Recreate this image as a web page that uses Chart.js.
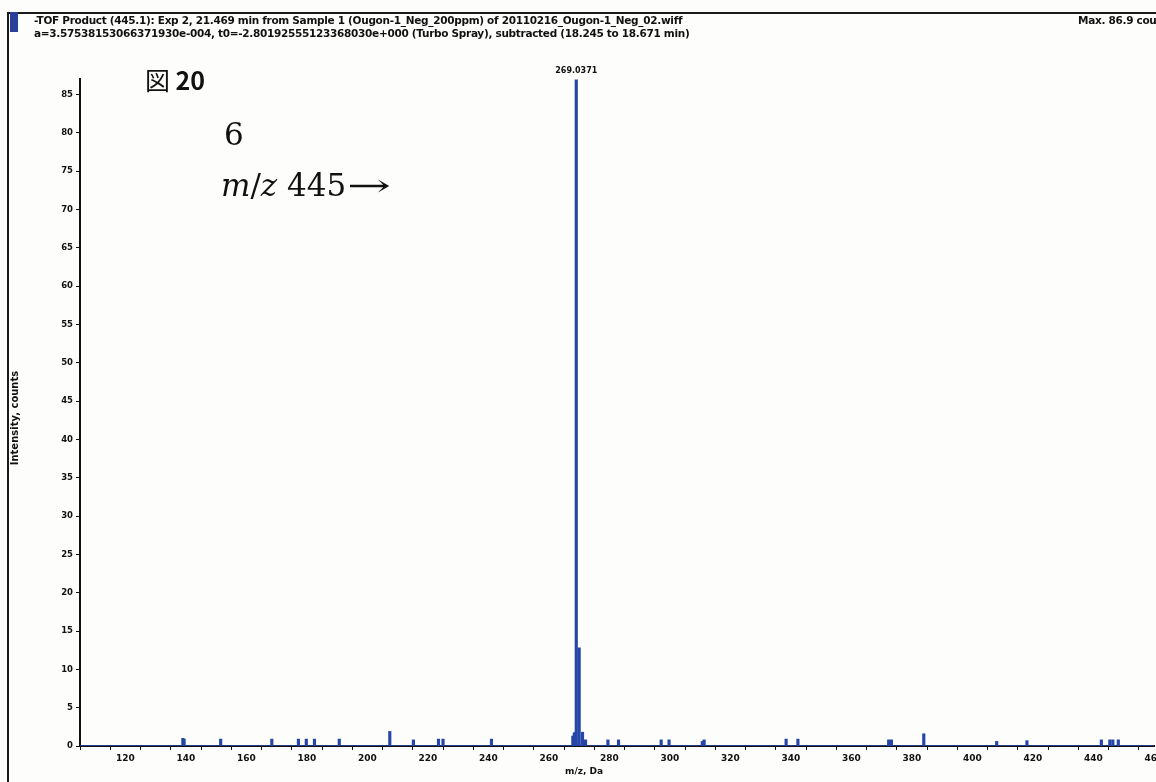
<!DOCTYPE html>
<html><head><meta charset="utf-8">
<script src="https://cdn.jsdelivr.net/npm/chart.js@4.4.1/dist/chart.umd.min.js"></script>
<style>
html,body{margin:0;padding:0;background:#fdfdfb;}
#wrap{position:relative;width:1156px;height:782px;overflow:hidden;background:#fdfdfb;}
canvas{position:absolute;left:0;top:0;}
.frameL{position:absolute;left:7px;top:12px;width:2px;height:770px;background:#1a1a1a;}
.frameT{position:absolute;left:7px;top:12px;width:1149px;height:2px;background:#1a1a1a;}
.blk{position:absolute;left:10px;top:12px;width:8px;height:20px;background:#2a3f9a;}
.hdr{position:absolute;font-family:"DejaVu Sans",sans-serif;font-weight:bold;font-size:10.5px;color:#111;white-space:nowrap;letter-spacing:-0.3px;}
.ytitle{position:absolute;left:-40px;top:412px;width:110px;transform:rotate(-90deg);transform-origin:center;font-family:"DejaVu Sans",sans-serif;font-weight:bold;font-size:10px;color:#111;text-align:center;line-height:12px;}
.fig{position:absolute;left:145px;top:62px;font-family:"Noto Sans CJK JP",sans-serif;font-size:25px;color:#111;line-height:34px;}
.fig b{font-weight:bold;}
.six{position:absolute;left:224px;top:116px;font-family:"DejaVu Serif",serif;font-size:31px;color:#111;line-height:36px;}
.mz{position:absolute;left:221px;top:167px;font-family:"DejaVu Serif",serif;font-size:31px;color:#111;line-height:36px;white-space:nowrap;}
.arr{display:inline-block;transform:scaleX(1.7);transform-origin:left center;margin-left:1px;}
.xtitle{position:absolute;left:565px;top:766px;font-family:"DejaVu Sans",sans-serif;font-weight:bold;font-size:9px;color:#111;}
</style></head>
<body>
<div id="wrap">
<canvas id="c" width="1156" height="782"></canvas>
<div class="frameL"></div><div class="frameT"></div><div class="blk"></div>
<div class="hdr" style="left:34px;top:14px;">-TOF Product (445.1): Exp 2, 21.469 min from Sample 1 (Ougon-1_Neg_200ppm) of 20110216_Ougon-1_Neg_02.wiff</div>
<div class="hdr" style="left:34px;top:27px;">a=3.57538153066371930e-004, t0=-2.80192555123368030e+000 (Turbo Spray), subtracted (18.245 to 18.671 min)</div>
<div class="hdr" style="left:1078px;top:14px;">Max. 86.9 counts.</div>
<div class="ytitle">Intensity, counts</div>
<div class="fig">図 <b>20</b></div>
<div class="six">6</div>
<div class="mz"><i>m</i>/<i>z</i> 445<span class="arr">→</span></div>
<div class="xtitle">m/z, Da</div>
</div>
<script>
const mzValues = [139.0, 139.4, 151.5, 168.4, 177.2, 179.8, 182.5, 190.7, 207.4, 215.2, 223.5, 225.0, 241.0,
  267.9, 268.4, 268.7, 269.0371, 270.0, 271.1, 272.1, 279.5, 283.0, 297.1, 299.7, 310.7, 311.3,
  338.4, 342.3, 372.3, 373.2, 383.9, 408.0, 418.0, 442.6, 445.4, 446.4, 448.2];
const intensities = [1.0, 0.9, 0.9, 0.9, 0.9, 0.9, 0.9, 0.9, 1.9, 0.8, 0.9, 0.9, 0.9,
  1.3, 1.7, 1.8, 86.9, 12.8, 1.8, 0.8, 0.8, 0.8, 0.8, 0.8, 0.6, 0.8,
  0.9, 0.9, 0.8, 0.8, 1.6, 0.6, 0.7, 0.8, 0.8, 0.8, 0.8];
const xRange = [105, 460];
const yRange = [0, 87];
const xTickValues = [110,120,130,140,150,160,170,180,190,200,210,220,230,240,250,260,270,280,290,300,310,320,330,340,350,360,370,380,390,400,410,420,430,440,450,460];
const xTickLabels = ["","120","","140","","160","","180","","200","","220","","240","","260","","280","","300","","320","","340","","360","","380","","400","","420","","440","","460"];
const yTickValues = [0,5,10,15,20,25,30,35,40,45,50,55,60,65,70,75,80,85];
const peakLabel = "269.0371";

const spectrum = mzValues.map((m,i)=>({x:m,y:intensities[i]}));
const baseline = [{x:xRange[0],y:0},{x:xRange[1],y:0}];
const labelIdx = intensities.indexOf(Math.max(...intensities));

const peakLabelPlugin = {
  id:'peakLabel',
  afterDatasetsDraw(chart){
    const {ctx, scales:{x,y}} = chart;
    ctx.save();
    ctx.font = 'bold 8px "DejaVu Sans", sans-serif';
    ctx.fillStyle = '#111';
    ctx.textAlign = 'center';
    ctx.textBaseline = 'bottom';
    ctx.fillText(peakLabel, x.getPixelForValue(mzValues[labelIdx]), y.getPixelForValue(intensities[labelIdx]) - 5);
    ctx.restore();
  }
};

new Chart(document.getElementById('c'), {
  type:'bar',
  data:{datasets:[
    {type:'line', data:baseline, borderColor:'#2a49b0', borderWidth:1.5, pointRadius:0, order:2},
    {type:'bar', data:spectrum, backgroundColor:'#2546a8', borderWidth:0, barThickness:2.5, grouped:false, order:1}
  ]},
  options:{
    responsive:false, animation:false,
    layout:{padding:{left:0, top:79, right:2, bottom:0}},
    plugins:{legend:{display:false}, tooltip:{enabled:false}},
    scales:{
      x:{type:'linear', min:xRange[0], max:xRange[1], offset:false,
        afterBuildTicks(s){ s.ticks = xTickValues.map(v=>({value:v})); },
        afterFit(s){ s.height = 36; s.paddingRight = 0; s.paddingLeft = 0; },
        border:{display:true, color:'#111', width:2},
        grid:{display:true, drawOnChartArea:false, drawTicks:true, tickLength:4, color:'#111', lineWidth:1},
        ticks:{autoSkip:false, maxRotation:0, padding:3, color:'#111',
          font:{family:'"DejaVu Sans", sans-serif', size:9, weight:'bold'},
          callback:(v,i)=>xTickLabels[i]}
      },
      y:{min:yRange[0], max:yRange[1],
        afterFit(s){ s.width = 80; s.paddingTop = 0; s.paddingBottom = 0; },
        afterBuildTicks(s){ s.ticks = yTickValues.map(v=>({value:v})); },
        border:{display:true, color:'#111', width:2},
        grid:{display:true, drawOnChartArea:false, drawTicks:true, tickLength:4, color:'#111', lineWidth:1},
        ticks:{padding:3, color:'#111', font:{family:'"DejaVu Sans", sans-serif', size:8.5, weight:'bold'}}
      }
    }
  },
  plugins:[peakLabelPlugin]
});
</script>
</body></html>
